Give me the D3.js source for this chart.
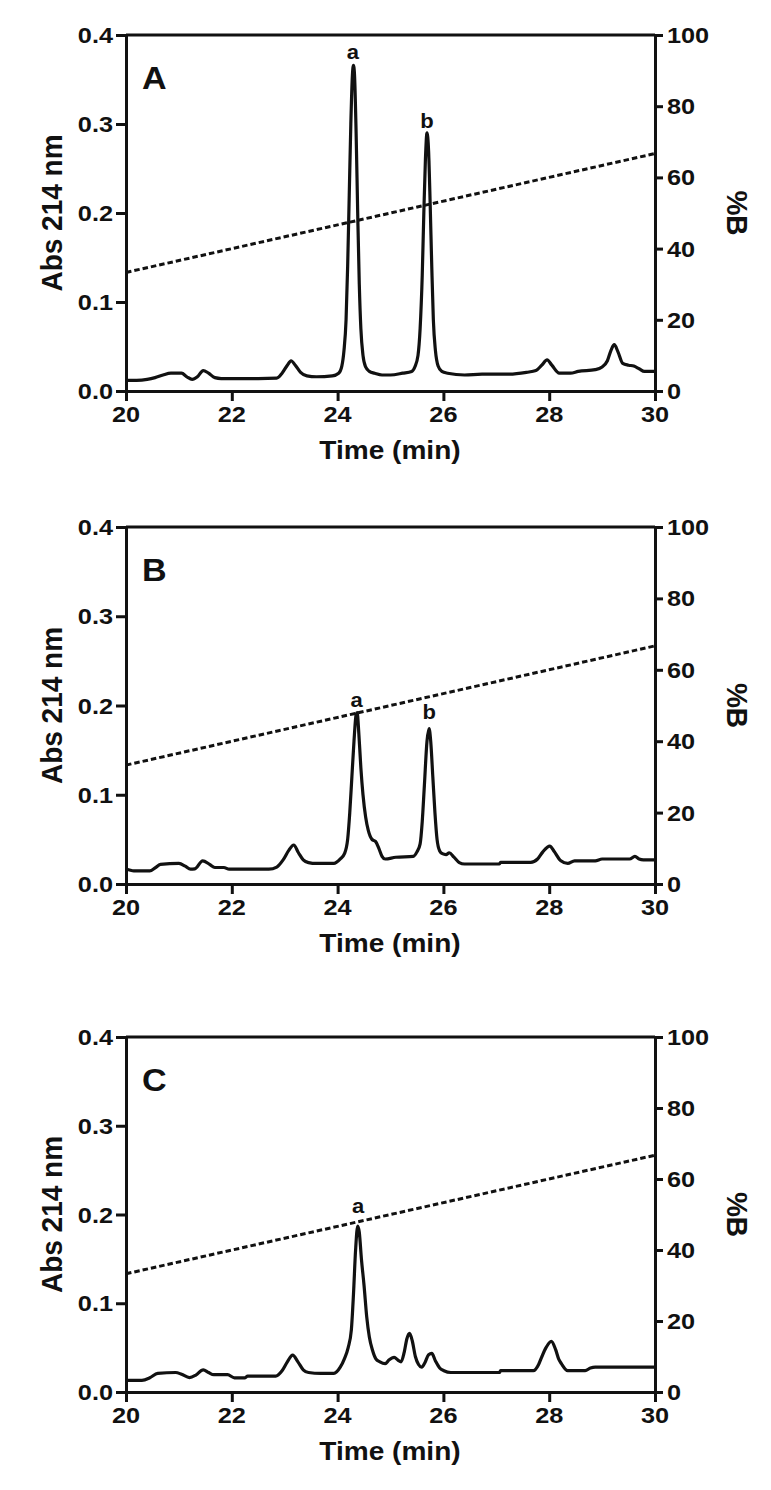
<!DOCTYPE html>
<html>
<head>
<meta charset="utf-8">
<script src="https://cdn.jsdelivr.net/npm/d3@7"></script>
<style>
  html, body { margin: 0; padding: 0; background: #fff; }
  svg { display: block; }
  text { font-family: "Liberation Sans", Arial, sans-serif; font-weight: bold; fill: #111; }
</style>
</head>
<body>
<svg id="chart" width="771" height="1490"></svg>
<script>
// ---------------- data ----------------
const panelLetters = ["A", "B", "C"];
const timeTicks = [20, 22, 24, 26, 28, 30];
const absTicks = [0.0, 0.1, 0.2, 0.3, 0.4];
const pctTicks = [0, 20, 40, 60, 80, 100];

// gradient (%B) vs time
const gradientTime = [20, 30];
const gradientB = [33.3, 66.7];

// Panel A trace
const timeA = [20.00,20.20,20.40,20.55,20.70,20.85,21.05,21.15,21.25,21.35,21.46,21.56,21.68,21.80,22.00,22.50,22.85,22.95,23.05,23.12,23.20,23.30,23.42,23.60,23.90,24.02,24.08,24.12,24.16,24.19,24.22,24.25,24.28,24.30,24.32,24.35,24.38,24.41,24.44,24.48,24.53,24.60,24.70,24.84,25.00,25.23,25.40,25.46,25.52,25.56,25.60,25.63,25.66,25.69,25.72,25.75,25.78,25.81,25.85,25.90,25.97,26.08,26.40,26.73,27.25,27.57,27.75,27.86,27.96,28.05,28.19,28.40,28.55,28.87,29.00,29.10,29.17,29.23,29.30,29.39,29.50,29.60,29.70,29.80,30.00];
const absA  = [0.012,0.012,0.013,0.015,0.018,0.020,0.020,0.016,0.013,0.016,0.023,0.020,0.015,0.014,0.014,0.014,0.0145,0.020,0.029,0.034,0.029,0.021,0.017,0.016,0.017,0.020,0.028,0.045,0.080,0.140,0.220,0.300,0.355,0.366,0.355,0.290,0.200,0.120,0.070,0.040,0.027,0.022,0.020,0.018,0.018,0.020,0.022,0.027,0.040,0.070,0.130,0.200,0.260,0.290,0.270,0.210,0.140,0.080,0.045,0.028,0.022,0.020,0.018,0.019,0.019,0.021,0.023,0.029,0.035,0.029,0.020,0.020,0.022,0.024,0.027,0.034,0.046,0.052,0.044,0.031,0.029,0.028,0.025,0.022,0.022];

// Panel B trace
const timeB = [20.00,20.05,20.15,20.45,20.55,20.65,21.00,21.12,21.22,21.30,21.45,21.58,21.68,21.85,21.95,22.70,22.85,22.97,23.08,23.17,23.26,23.35,23.45,23.60,23.93,24.05,24.13,24.19,24.23,24.27,24.31,24.35,24.37,24.40,24.44,24.48,24.53,24.58,24.65,24.72,24.78,24.84,24.90,25.10,25.43,25.50,25.56,25.60,25.64,25.69,25.73,25.76,25.80,25.84,25.88,25.93,25.98,26.05,26.11,26.20,26.30,26.40,27.06,27.08,27.65,27.78,27.88,28.01,28.10,28.22,28.35,28.48,28.87,29.00,29.52,29.62,29.70,29.78,30.00];
const absB  = [0.0166,0.016,0.0147,0.0147,0.018,0.022,0.023,0.020,0.0166,0.017,0.026,0.022,0.0185,0.0185,0.0166,0.0166,0.019,0.027,0.038,0.0437,0.035,0.027,0.024,0.023,0.023,0.028,0.034,0.050,0.080,0.120,0.160,0.190,0.192,0.170,0.130,0.100,0.075,0.060,0.050,0.0475,0.040,0.031,0.028,0.030,0.031,0.036,0.045,0.070,0.110,0.160,0.174,0.160,0.120,0.080,0.050,0.037,0.034,0.033,0.035,0.030,0.024,0.0224,0.0224,0.0243,0.0243,0.028,0.036,0.0425,0.036,0.026,0.023,0.026,0.026,0.028,0.028,0.031,0.028,0.027,0.027];

// Panel C trace
const timeC = [20.00,20.30,20.45,20.60,20.94,21.05,21.20,21.32,21.46,21.56,21.66,21.92,22.05,22.25,22.30,22.83,22.95,23.05,23.15,23.25,23.35,23.45,23.68,23.93,24.05,24.13,24.20,24.26,24.30,24.34,24.38,24.41,24.45,24.50,24.55,24.60,24.66,24.72,24.80,24.90,24.97,25.07,25.14,25.20,25.26,25.31,25.36,25.41,25.47,25.53,25.59,25.65,25.72,25.78,25.85,25.93,26.01,26.14,27.06,27.08,27.70,27.80,27.86,27.94,28.04,28.12,28.18,28.23,28.35,28.68,28.78,28.87,30.00];
const absC  = [0.0132,0.0132,0.016,0.021,0.022,0.020,0.0163,0.019,0.025,0.022,0.0195,0.0195,0.016,0.016,0.018,0.018,0.024,0.034,0.0415,0.034,0.025,0.022,0.021,0.021,0.028,0.0377,0.050,0.070,0.110,0.160,0.187,0.180,0.150,0.120,0.085,0.062,0.047,0.0377,0.034,0.032,0.036,0.039,0.036,0.034,0.045,0.060,0.066,0.058,0.040,0.031,0.028,0.033,0.042,0.0435,0.035,0.027,0.024,0.022,0.022,0.024,0.024,0.031,0.0397,0.050,0.057,0.048,0.037,0.032,0.024,0.024,0.027,0.028,0.028];

// peak labels
const peakLabelText = ["a", "b", "a", "b", "a"];
const peakLabelPanel = [0, 0, 1, 1, 2];
const peakLabelTime = [24.29, 25.69, 24.36, 25.73, 24.39];
const peakLabelAbs = [0.373, 0.296, 0.198, 0.185, 0.202];

// ---------------- layout ----------------
const traces = [[timeA, absA], [timeB, absB], [timeC, absC]];
const panelTop = [35, 527, 1037];
const panelBottom = [391, 884, 1392];
const left = 126, right = 655;

const svg = d3.select("#chart");
const x = d3.scaleLinear().domain([20, 30]).range([left, right]);

function stretchText(g, tx, ty, str, size, anchor, rot, sx) {
  const gg = g.append("g").attr("transform", `translate(${tx},${ty}) scale(${sx},1)`);
  const t = gg.append("text")
    .attr("text-anchor", anchor)
    .attr("font-size", size)
    .text(str);
  if (rot) t.attr("transform", `rotate(${rot})`);
  return t;
}

panelLetters.forEach((letter, i) => {
  const top = panelTop[i], bot = panelBottom[i];
  const y = d3.scaleLinear().domain([0, 0.4]).range([bot, top]);
  const yR = d3.scaleLinear().domain([0, 100]).range([bot, top]);
  const g = svg.append("g");

  // gradient dashed line
  const grad = gradientTime.map((t, k) => [t, gradientB[k]]);
  g.append("path")
    .datum(grad)
    .attr("fill", "none")
    .attr("stroke", "#111")
    .attr("stroke-width", 3)
    .attr("stroke-dasharray", "5.5,3")
    .attr("d", d3.line().x(d => x(d[0])).y(d => yR(d[1])));

  // trace
  const [tt, vv] = traces[i];
  const pts = tt.map((t, k) => [t, vv[k]]);
  g.append("path")
    .datum(pts)
    .attr("fill", "none")
    .attr("stroke", "#111")
    .attr("stroke-width", 3.2)
    .attr("stroke-linejoin", "round")
    .attr("d", d3.line().x(d => x(d[0])).y(d => y(d[1])).curve(d3.curveMonotoneX));

  // top border
  g.append("line")
    .attr("x1", left).attr("x2", right)
    .attr("y1", top).attr("y2", top)
    .attr("stroke", "#111").attr("stroke-width", 3);

  const styleAxis = (sel) => {
    sel.selectAll("path.domain").attr("stroke", "#111").attr("stroke-width", 3);
    sel.selectAll(".tick line").attr("stroke", "#111").attr("stroke-width", 3);
    sel.selectAll(".tick text").remove();
  };

  // left axis
  const ga = g.append("g").attr("transform", `translate(${left},0)`)
    .call(d3.axisLeft(y).tickValues(absTicks).tickSize(10).tickSizeOuter(0));
  styleAxis(ga);
  absTicks.forEach(v => stretchText(g, left - 13, y(v) + 8, d3.format(".1f")(v), 22, "end", 0, 1.15));

  // right axis
  const gr = g.append("g").attr("transform", `translate(${right},0)`)
    .call(d3.axisRight(yR).tickValues(pctTicks).tickSize(8).tickSizeOuter(0));
  styleAxis(gr);
  pctTicks.forEach(v => stretchText(g, right + 12, yR(v) + 8, String(v), 22, "start", 0, 1.15));

  // bottom axis
  const gb = g.append("g").attr("transform", `translate(0,${bot})`)
    .call(d3.axisBottom(x).tickValues(timeTicks).tickSize(10).tickSizeOuter(0));
  styleAxis(gb);
  timeTicks.forEach(v => stretchText(g, x(v), bot + 31, String(v), 22, "middle", 0, 1.15));

  // axis titles
  stretchText(g, 390, bot + 68, "Time (min)", 25.5, "middle", 0, 1.1);
  const midY = (top + bot) / 2;
  stretchText(g, 62, midY, "Abs 214 nm", 28, "middle", -90, 1.05);
  stretchText(g, 727, midY, "%B", 28, "middle", 90, 1.05);

  // panel letter
  stretchText(g, 142, top + 54, letter, 31, "start", 0, 1.1);

  // peak labels
  peakLabelText.forEach((lab, k) => {
    if (peakLabelPanel[k] !== i) return;
    stretchText(g, x(peakLabelTime[k]), y(peakLabelAbs[k]), lab, 20, "middle", 0, 1.1);
  });
});
</script>
</body>
</html>
